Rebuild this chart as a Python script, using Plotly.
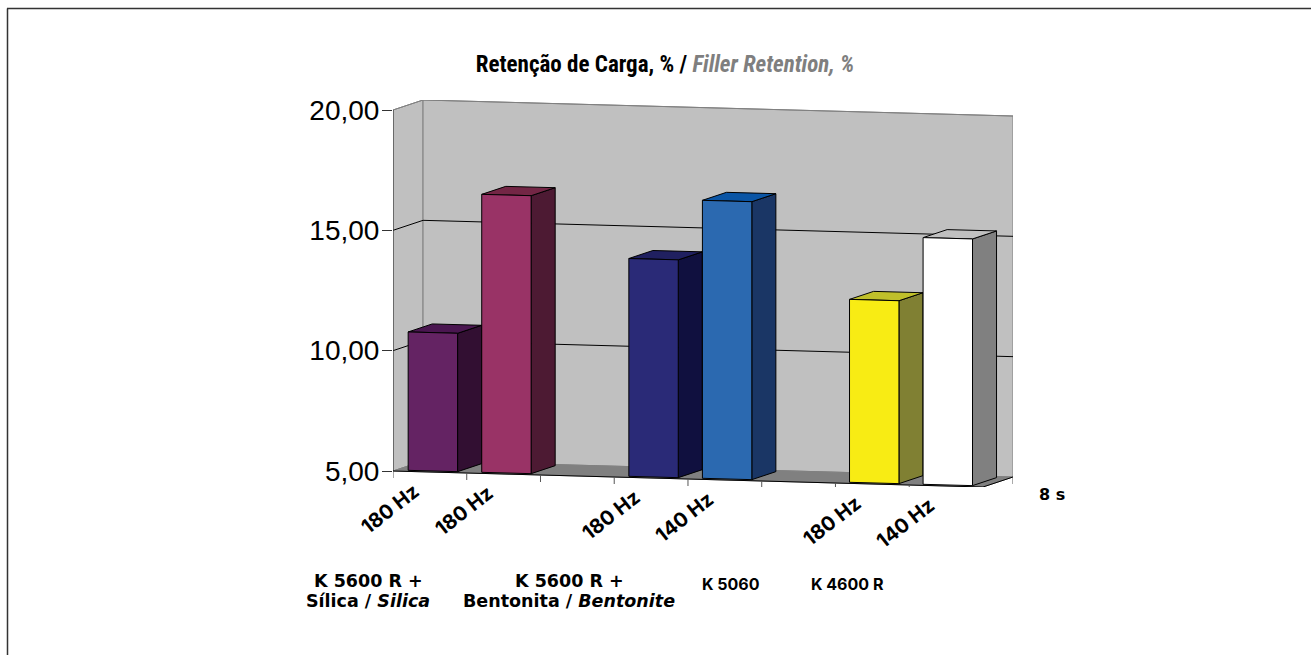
import plotly.graph_objects as go

# Chart data
frequency_labels = ["180 Hz", "180 Hz", "180 Hz", "140 Hz", "180 Hz", "140 Hz"]
bar_slots = [0, 1, 3, 4, 6, 7]
retention = [10.75, 16.55, 14.05, 16.55, 12.6, 15.25]
y_ticks = [5, 10, 15, 20]
y_tick_labels = ["5,00", "10,00", "15,00", "20,00"]
front_colors = ["#642363", "#993366", "#2a2a77", "#2b69b0", "#f8ec14", "#ffffff"]
side_colors = ["#320f32", "#4d1a33", "#10103f", "#1a3665", "#808033", "#808080"]
top_colors = ["#4a1650", "#732645", "#202060", "#0a55a5", "#bfbf2a", "#c0c0c0"]

# Page size and the top margin plotly keeps above the plot area
WIDTH, HEIGHT, TOP = 1311, 655, 5

# Oblique projection: depth runs 0..1 front to back
SLOTS = 8
PX_PER_SLOT = 73.625
PX_PER_UNIT = 24.07
DEPTH_X = 30 / PX_PER_SLOT
DEPTH_Y = 10 / PX_PER_UNIT
SLANT = 2.0 / PX_PER_UNIT      # floor drop per slot
BAR_PITCH = 0.9975
BAR_INSET = 0.165
BAR_WIDTH = 0.67
BAR_DEPTH = (0.1, 0.9)


def page_x(px):
    return px / WIDTH


def page_y(py):
    return 1 - (py - TOP) / (HEIGHT - TOP)


def project(slot, value, depth=0.0):
    return slot + depth * DEPTH_X, value - SLANT * slot + depth * DEPTH_Y


def polygon(corners, fill, line="#000000", width=1):
    pts = [project(*c) for c in corners]
    pts.append(pts[0])
    return go.Scatter(x=[p[0] for p in pts], y=[p[1] for p in pts], mode="lines",
                      fill="toself", fillcolor=fill,
                      line=dict(color=line, width=width),
                      hoverinfo="skip", showlegend=False, cliponaxis=False)


def segment(corners, color="#000000", width=1):
    pts = [project(*c) for c in corners]
    return go.Scatter(x=[p[0] for p in pts], y=[p[1] for p in pts], mode="lines",
                      line=dict(color=color, width=width),
                      hoverinfo="skip", showlegend=False, cliponaxis=False)


fig = go.Figure()
V0, V1 = y_ticks[0], y_ticks[-1]

# Walls and floor of the box
fig.add_trace(polygon([(0, V0, 0), (0, V0, 1), (0, V1, 1), (0, V1, 0)], "#c0c0c0", "#808080"))
fig.add_trace(polygon([(0, V0, 1), (SLOTS, V0, 1), (SLOTS, V1, 1), (0, V1, 1)], "#c0c0c0", "#808080"))
fig.add_trace(polygon([(0, V0, 0), (SLOTS, V0, 0), (SLOTS, V0, 1), (0, V0, 1)], "#808080", "#808080"))

# Gridlines along the side and back walls
for tick in y_ticks[1:]:
    edge = "#000000" if tick < V1 else "#808080"
    fig.add_trace(segment([(0, tick, 0), (0, tick, 1), (SLOTS, tick, 1)], edge))

# Axis lines and tick marks
fig.add_trace(segment([(0, V0, 0), (0, V1, 0)], "#333333"))
fig.add_trace(segment([(0, V0, 0), (SLOTS, V0, 0), (SLOTS, V0, 1)], "#000000"))
TICK_DROP = 7 / PX_PER_UNIT
for s in range(SLOTS + 1):
    fig.add_trace(segment([(s, V0, 0), (s, V0 - TICK_DROP, 0)], "#555555"))
fig.add_trace(segment([(SLOTS, V0, 1), (SLOTS, V0 - TICK_DROP, 1)], "#555555"))

# Bars: front, top and side faces
d0, d1 = BAR_DEPTH
for slot, v, fc, sc, tc in zip(bar_slots, retention, front_colors, side_colors, top_colors):
    a = slot * BAR_PITCH + BAR_INSET
    b = a + BAR_WIDTH
    fig.add_trace(polygon([(b, V0, d0), (b, V0, d1), (b, v, d1), (b, v, d0)], sc))
    fig.add_trace(polygon([(a, v, d0), (b, v, d0), (b, v, d1), (a, v, d1)], tc))
    fig.add_trace(polygon([(a, V0, d0), (b, V0, d0), (b, v, d0), (a, v, d0)], fc))

annotations = []


def label(text, px, py, size, angle=0, family="Inter"):
    annotations.append(dict(text=text, xref="paper", yref="paper", x=page_x(px), y=page_y(py),
                            xanchor="center", yanchor="middle", showarrow=False, textangle=angle,
                            font=dict(family=family, size=size, color="#000000")))


# Frequency labels sit under their slots, following the slanted floor edge
for slot, text in zip(bar_slots, frequency_labels):
    label(f"<b>{text}</b>", 390 + PX_PER_SLOT * slot, 509 + 2 * slot, 20, -38)

WIDE = "DejaVu Sans"
label("<b>8 s</b>", 1052, 494, 16, family=WIDE)
label("<b>K 5600 R +</b>", 368, 581, 17.5, family=WIDE)
label("<b>Sílica / <i>Silica</i></b>", 368, 601, 17.5, family=WIDE)
label("<b>K 5600 R +</b>", 569, 581, 17.5, family=WIDE)
label("<b>Bentonita / <i>Bentonite</i></b>", 569, 601, 17.5, family=WIDE)
label("<b>K 5060</b>", 731, 584, 16)
label("<b>K 4600 R</b>", 847, 584, 16)

x_lo, y_lo = project(0, V0, 0)[0], project(SLOTS, V0, 0)[1]
x_hi, y_hi = project(SLOTS, V0, 1)[0], project(0, V1, 1)[1]

fig.update_layout(
    width=WIDTH, height=HEIGHT, margin=dict(l=0, r=0, t=TOP, b=0),
    paper_bgcolor="#ffffff", plot_bgcolor="rgba(0,0,0,0)",
    title=dict(
        text='<b>Retenção de Carga, % / <i><span style="color:#7f7f7f">Filler Retention, %</span></i></b>',
        x=665 / WIDTH, xanchor="center", y=1 - 64 / HEIGHT, yanchor="middle",
        font=dict(family="Roboto Condensed, DejaVu Sans Condensed, Liberation Sans", size=23, color="#000000")),
    xaxis=dict(domain=[page_x(393), page_x(1013)], range=[x_lo, x_hi], visible=False),
    yaxis=dict(domain=[page_y(487), page_y(100)], range=[y_lo, y_hi],
               tickvals=y_ticks, ticktext=y_tick_labels, ticks="outside", ticklen=10,
               tickcolor="#333333", showline=False, showgrid=False, zeroline=False,
               ticklabelstandoff=-3,
               tickfont=dict(family="Liberation Sans", size=28, color="#000000")),
    annotations=annotations,
    shapes=[
        dict(type="line", xref="paper", yref="paper", x0=page_x(7.5), x1=page_x(7.5),
             y0=0, y1=page_y(8.5), line=dict(color="#333333", width=1.5)),
        dict(type="line", xref="paper", yref="paper", x0=page_x(7), x1=1,
             y0=page_y(8.5), y1=page_y(8.5), line=dict(color="#333333", width=1.5)),
    ],
)

fig.write_html("out.html")
